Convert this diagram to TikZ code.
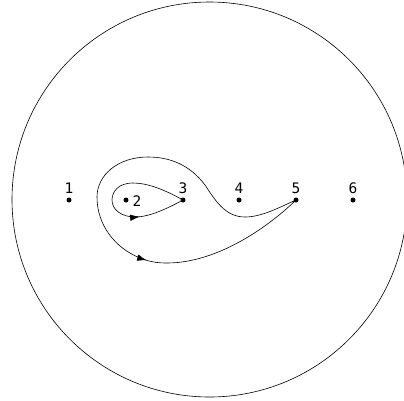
\documentclass[tikz,border=0pt]{standalone}
\usepackage{fontspec}
\setmonofont{DejaVu Sans Mono}
\usetikzlibrary{arrows.meta,decorations.markings}
\tikzset{
  dot/.style={circle,fill=black,inner sep=0pt,minimum size=5pt},
  lbl/.style={font=\ttfamily\fontsize{14.5}{14.5}\selectfont,inner sep=0pt},
  curve/.style={line width=0.6pt},
  tipat/.style={postaction={decorate},decoration={markings,mark=at position #1 with {\arrow{Latex[length=9.5pt,width=6.5pt]}}}}
}
\begin{document}
\begin{tikzpicture}[x=1pt,y=-1pt]
\useasboundingbox (0,0) rectangle (404,400);
\node[draw,circle,line width=0.6pt,minimum size=395pt,inner sep=0pt] (disk) at (209.5,199.5) {};
\node[dot] (p1) at (69,200) {};
\node[dot] (p2) at (126,200) {};
\node[dot] (p3) at (183,200) {};
\node[dot] (p4) at (239,200) {};
\node[dot] (p5) at (296,200) {};
\node[dot] (p6) at (353,200) {};
\node[lbl] (l1) at (69,188) {1};
\node[lbl] (l2) at (137,201) {2};
\node[lbl] (l3) at (183,188) {3};
\node[lbl] (l4) at (239,188) {4};
\node[lbl] (l5) at (296,188) {5};
\node[lbl] (l6) at (353,188) {6};
% inner loop around 2
\draw[curve,tipat=0.72] (p3.center) .. controls (165,190) and (148,183) .. (133,183)
  .. controls (118,183) and (112,192) .. (112,200)
  .. controls (112,210) and (122,217) .. (135,217)
  .. controls (150,217) and (168,208) .. (p3.center);
% outer loop from 5
\draw[curve,tipat=0.665] (p5.center) .. controls (280,207) and (262,217) .. (245,217)
  .. controls (225,217) and (215,200) .. (205,185)
  .. controls (190,165) and (170,157) .. (148,157)
  .. controls (118,157) and (97,175) .. (97,197)
  .. controls (97,225) and (115,248) .. (140,258)
  .. controls (150,262) and (158,263) .. (167,263)
  .. controls (215,263) and (265,230) .. (p5.center);
\end{tikzpicture}
\end{document}
